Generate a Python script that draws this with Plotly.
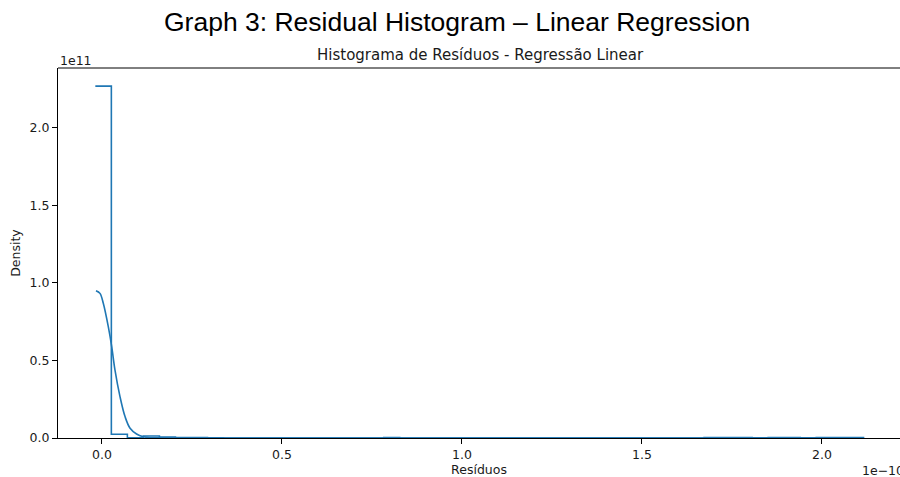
import numpy as np
import plotly.graph_objects as go

# Units: x in 1e-10, y (density) in 1e11
bin_lo = -0.0185
bin_hi = 2.1175
density = [2.27, 0.024, 0.002, 0.013, 0.006, 0.003, 0.003, 0.001,
           0.0, 0.0, 0.0, 0.0, 0.0, 0.0, 0.0, 0.0,
           0.0, 0.0, 0.003, 0.0, 0.0, 0.0, 0.0, 0.0,
           0.0, 0.0, 0.0, 0.0, 0.0, 0.0, 0.0, 0.0,
           0.0, 0.0, 0.0, 0.0, 0.0, 0.0, 0.003, 0.003,
           0.003, 0.001, 0.003, 0.003, 0.001, 0.003, 0.003, 0.003]

kde_x = [-0.0167, -0.0056, 0.0036, 0.0175, 0.027, 0.036, 0.05, 0.064,
         0.078, 0.096, 0.115, 0.133, 0.16, 0.25, 0.5, 1.0, 1.5, 2.0, 2.117]
kde_y = [0.950, 0.933, 0.869, 0.718, 0.589, 0.439, 0.267, 0.138,
         0.063, 0.026, 0.0085, 0.002, 0.0005, 0.0, 0.0, 0.0, 0.0, 0.0, 0.0]

x_ticks = [0.0, 0.5, 1.0, 1.5, 2.0]
y_ticks = [0.0, 0.5, 1.0, 1.5, 2.0]

edges = np.linspace(bin_lo, bin_hi, len(density) + 1)
step_y = density + [density[-1]]

color = "#1f77b4"
fig = go.Figure()
fig.add_trace(go.Scatter(x=edges, y=step_y, mode="lines", line_shape="hv",
                         line=dict(color=color, width=1.6), showlegend=False))
fig.add_trace(go.Scatter(x=kde_x, y=kde_y, mode="lines", line_shape="spline",
                         line=dict(color=color, width=1.6), showlegend=False))

txt = "#1a1a1a"
axfont = dict(family="DejaVu Sans", size=12.5, color=txt)
fig.update_layout(
    width=900, height=477,
    margin=dict(l=58, r=0, t=68, b=39),
    paper_bgcolor="white", plot_bgcolor="white",
    font=axfont,
    xaxis=dict(range=[-0.1222, 2.2167], tickvals=x_ticks, tickformat=".1f",
               showgrid=False, zeroline=False, showline=True, linecolor="black",
               linewidth=1, mirror=False, ticks="outside", ticklen=5,
               tickcolor="black", title=dict(text="Resíduos", standoff=6,
                                             font=dict(family="DejaVu Sans", size=12.5, color=txt))),
    yaxis=dict(range=[0, 2.387], tickvals=y_ticks, tickformat=".1f",
               showgrid=False, zeroline=False, showline=True, linecolor="black",
               linewidth=1, ticks="outside", ticklen=5, tickcolor="black",
               title=dict(text="Density", standoff=6,
                          font=dict(family="DejaVu Sans", size=12.5, color=txt))),
)
# top spine
fig.add_shape(type="line", xref="paper", yref="paper", x0=0, x1=1, y0=1, y1=1,
              line=dict(color="black", width=1))

fig.add_annotation(text="Graph 3: Residual Histogram – Linear Regression",
                   xref="paper", yref="paper", x=(457 - 58) / 842, y=1 + (68 - 22) / 370,
                   showarrow=False, xanchor="center", yanchor="middle",
                   font=dict(family="Liberation Sans", size=26.5, color="black"))
fig.add_annotation(text="Histograma de Resíduos - Regressão Linear",
                   xref="paper", yref="paper", x=(480 - 58) / 842, y=1 + (68 - 55) / 370,
                   showarrow=False, xanchor="center", yanchor="middle",
                   font=dict(family="DejaVu Sans", size=15, color=txt))
fig.add_annotation(text="1e11", xref="paper", yref="paper", x=0, y=1 + (68 - 60) / 370,
                   showarrow=False, xanchor="left", yanchor="middle",
                   font=dict(family="DejaVu Sans", size=12.5, color=txt))
fig.add_annotation(text="1e−10", xref="paper", yref="paper", x=(860 - 58) / 842,
                   y=-(470 - 438) / 370, showarrow=False, xanchor="left", yanchor="middle",
                   font=dict(family="DejaVu Sans", size=12.5, color=txt))

fig.write_html("out.html", config={"displayModeBar": False},
               post_script="document.body.style.margin='0';document.body.style.overflow='hidden';")
